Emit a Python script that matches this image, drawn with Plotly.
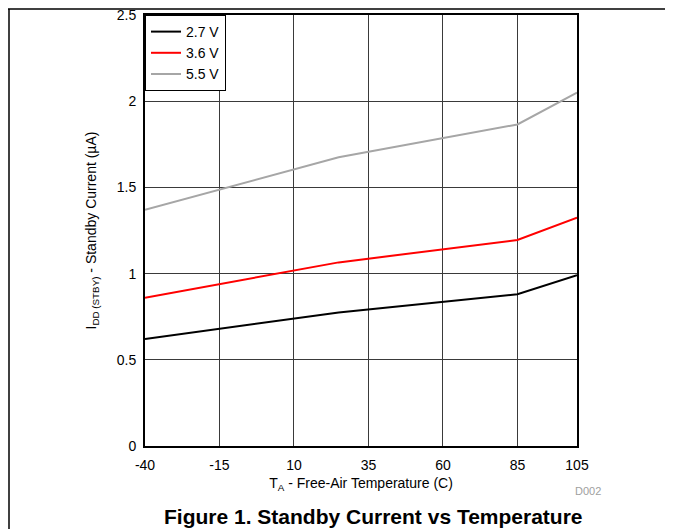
import plotly.graph_objects as go

temps = [-40, 25, 85, 105]
v27 = [0.62, 0.775, 0.88, 0.99]
v36 = [0.86, 1.065, 1.195, 1.325]
v55 = [1.37, 1.675, 1.865, 2.05]
series_names = ["2.7 V", "3.6 V", "5.5 V"]
colors = ["#000000", "#ff0000", "#a6a6a6"]
x_ticks = [-40, -15, 10, 35, 60, 85, 105]
y_ticks = [0, 0.5, 1, 1.5, 2, 2.5]

fig = go.Figure()
for name, vals, c in zip(series_names, [v27, v36, v55], colors):
    fig.add_trace(go.Scatter(x=temps, y=vals, mode="lines", name=name,
                             line=dict(color=c, width=2)))

OFF = 8  # page body margin
W, H = 673 - OFF, 529 - OFF
L, R, T, B = 145 - OFF, 96, 15 - OFF, 83
PW, PH = W - L - R, H - T - B


def px(xr):  # reference x pixel -> paper
    return (xr - OFF - L) / PW


def py(yr):  # reference y pixel -> paper
    return (H - B - (yr - OFF)) / PH


fig.update_layout(
    width=W, height=H,
    margin=dict(l=L, r=R, t=T, b=B, autoexpand=False),
    paper_bgcolor="white", plot_bgcolor="white",
    font=dict(family="Liberation Sans, Arial, sans-serif", size=14, color="black"),
    showlegend=True,
    legend=dict(x=0, y=1, xanchor="left", yanchor="top",
                bgcolor="white", bordercolor="black", borderwidth=1,
                font=dict(size=14), tracegroupgap=0,
                itemwidth=30),
    xaxis=dict(range=[-40, 105], tickvals=x_ticks, ticktext=[str(t) for t in x_ticks],
               showgrid=True, gridcolor="#3a3a3a", gridwidth=1, automargin=False,
               zeroline=False, showline=True, linecolor="black", linewidth=2,
               mirror=True, ticks="outside", ticklen=5, tickcolor="white",
               ticklabeloverflow="allow",
               title=dict(text="T<sub>A</sub> - Free-Air Temperature (C)", standoff=6,
                          font=dict(size=14))),
    yaxis=dict(range=[0, 2.5], tickvals=y_ticks, ticktext=["0", "0.5", "1", "1.5", "2", "2.5"],
               showgrid=True, gridcolor="#3a3a3a", gridwidth=1, automargin=False,
               zeroline=False, showline=True, linecolor="black", linewidth=2,
               mirror=True, ticks="outside", ticklen=4, tickcolor="white",
               ticklabeloverflow="allow",
               title=dict(text="I<sub>DD (STBY)</sub> - Standby Current (µA)", standoff=17,
                          font=dict(size=14))),
)

fig.add_annotation(text="D002", xref="paper", yref="paper",
                   x=px(588), y=py(491),
                   showarrow=False, font=dict(size=11, color="#a0a0a0"),
                   xanchor="center", yanchor="middle")
fig.add_annotation(text="<b>Figure 1. Standby Current vs Temperature</b>",
                   xref="paper", yref="paper",
                   x=px(373), y=py(516),
                   showarrow=False, font=dict(size=21, color="black"),
                   xanchor="center", yanchor="middle")

# page frame lines (top and left)
fig.add_shape(type="line", xref="paper", yref="paper",
              x0=px(8), x1=px(673), y0=py(9), y1=py(9),
              line=dict(color="black", width=1.5))
fig.add_shape(type="line", xref="paper", yref="paper",
              x0=px(9), x1=px(9), y0=py(529), y1=py(9),
              line=dict(color="black", width=1.5))

fig.write_html("out.html")
